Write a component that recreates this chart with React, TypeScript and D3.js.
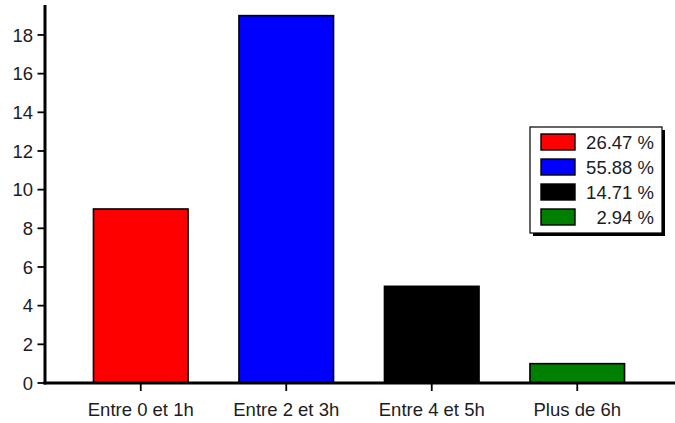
import React from "react";
import * as d3 from "d3";

const categories = ["Entre 0 et 1h", "Entre 2 et 3h", "Entre 4 et 5h", "Plus de 6h"];
const values = [9, 19, 5, 1];
const colors = ["#ff0000", "#0000ff", "#000000", "#008000"];
const yTicks = [0, 2, 4, 6, 8, 10, 12, 14, 16, 18];

const W = 675;
const H = 423;
const FONT = "'Liberation Sans', Arial, sans-serif";
const TEXT = "#1c1c24";

export default function App() {
  const x = d3.scaleBand<string>().domain(categories).range([68, 650]).paddingInner(0.35).paddingOuter(0.175);
  const y = d3.scaleLinear().domain([0, 19.55]).range([383, 5]);
  const total = d3.sum(values);
  const pct = values.map((v) => d3.format(".2f")((v / total) * 100) + " %");

  const lx = 530, ly = 127, lw = 132, lh = 106;

  return (
    <svg width={W} height={H} style={{ position: "absolute", left: 0, top: 0, background: "#fff" }} fontFamily={FONT}>
      {/* bars */}
      {categories.map((c, i) => (
        <rect
          key={c}
          x={x(c)}
          y={y(values[i])}
          width={x.bandwidth()}
          height={y(0) - y(values[i])}
          fill={colors[i]}
          stroke="#000"
          strokeWidth={1.6}
        />
      ))}
      {/* y axis */}
      <line x1={45} x2={45} y1={y.range()[1]} y2={y(0) + 1.5} stroke="#000" strokeWidth={3} />
      {yTicks.map((t) => (
        <g key={t}>
          <line x1={37.5} x2={45} y1={y(t)} y2={y(t)} stroke="#000" strokeWidth={1.8} />
          <text x={33} y={y(t)} dy="0.36em" textAnchor="end" fontSize={18.5} fill={TEXT}>
            {t}
          </text>
        </g>
      ))}
      {/* x axis */}
      <line x1={43.5} x2={675} y1={y(0)} y2={y(0)} stroke="#000" strokeWidth={3.2} />
      {categories.map((c) => {
        const cx = (x(c) ?? 0) + x.bandwidth() / 2;
        return (
          <g key={c}>
            <line x1={cx} x2={cx} y1={y(0)} y2={y(0) + 8} stroke="#000" strokeWidth={1.8} />
            <text x={cx} y={416} textAnchor="middle" fontSize={18.5} fill={TEXT}>
              {c}
            </text>
          </g>
        );
      })}
      {/* legend */}
      <rect x={lx + 3} y={ly + 3} width={lw} height={lh} fill="#000" />
      <rect x={lx} y={ly} width={lw} height={lh} fill="#fff" stroke="#000" strokeWidth={1.2} />
      {pct.map((p, i) => (
        <g key={i}>
          <rect x={541} y={134 + i * 25} width={34} height={16} fill={colors[i]} stroke="#000" strokeWidth={1.4} />
          <text x={654} y={142 + i * 25} dy="0.36em" textAnchor="end" fontSize={18.5} fill={TEXT}>
            {p}
          </text>
        </g>
      ))}
    </svg>
  );
}
